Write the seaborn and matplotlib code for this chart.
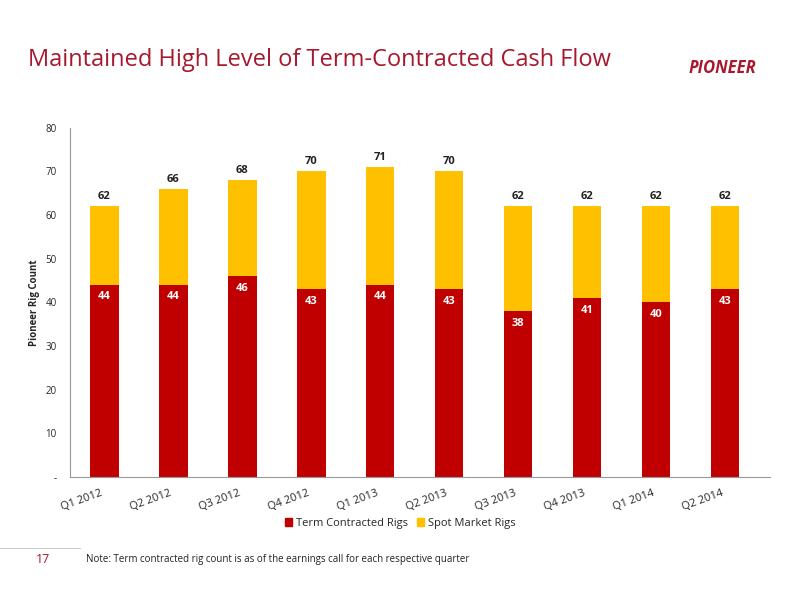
import pandas as pd
import seaborn as sns
import matplotlib.pyplot as plt
from matplotlib.patches import Patch

quarters = ["Q1 2012", "Q2 2012", "Q3 2012", "Q4 2012", "Q1 2013",
            "Q2 2013", "Q3 2013", "Q4 2013", "Q1 2014", "Q2 2014"]
term_rigs = [44, 44, 46, 43, 44, 43, 38, 41, 40, 43]
total_rigs = [62, 66, 68, 70, 71, 70, 62, 62, 62, 62]

red = "#C00000"
yellow = "#FFC000"

sns.set_theme(style="white")
plt.rcParams['font.family'] = ['Open Sans', 'DejaVu Sans']

df = pd.DataFrame({"quarter": quarters, "term": term_rigs, "total": total_rigs})

fig = plt.figure(figsize=(8, 6), dpi=100)
ax = fig.add_axes([0.0875, 0.205, 0.875, 0.582])

sns.barplot(data=df, x="quarter", y="total", color=yellow, width=0.41,
            saturation=1, linewidth=0, ax=ax)
sns.barplot(data=df, x="quarter", y="term", color=red, width=0.41,
            saturation=1, linewidth=0, ax=ax)

for i, (t, tot) in enumerate(zip(term_rigs, total_rigs)):
    ax.text(i, tot + 1, str(tot), ha="center", va="bottom", fontsize=8,
            fontweight="bold", color="#222222")
    ax.text(i, t - 1.5, str(t), ha="center", va="top", fontsize=8,
            fontweight="bold", color="white")

ax.set_ylim(0, 80)
ax.set_xlim(-0.5, 9.65)
ax.set_yticks(range(0, 81, 10))
ax.set_yticklabels(["-"] + [str(v) for v in range(10, 81, 10)], fontsize=7)
ax.set_xticks(range(len(quarters)))
ax.set_xticklabels(quarters, rotation=20, ha="right", fontsize=8)
ax.tick_params(axis="x", pad=2)
ax.set_xlabel("")
ax.set_ylabel("Pioneer Rig Count", fontsize=7, fontweight="bold")
for s in ["top", "right"]:
    ax.spines[s].set_visible(False)
for s in ["left", "bottom"]:
    ax.spines[s].set_color("#999999")
    ax.spines[s].set_linewidth(0.8)

handles = [Patch(color=red, label="Term Contracted Rigs"),
           Patch(color=yellow, label="Spot Market Rigs")]
fig.legend(handles=handles, loc="center", bbox_to_anchor=(0.5, 0.128), ncol=2,
           frameon=False, fontsize=8, handlelength=0.7, handleheight=0.7,
           columnspacing=0.8, handletextpad=0.3)

fig.text(0.035, 0.9, "Maintained High Level of Term-Contracted Cash Flow",
         fontsize=17, color="#A6192E", va="center")
fig.text(0.945, 0.887, "PIONEER", fontsize=12, fontweight="bold",
         fontstyle="italic", color="#A6192E", ha="right", va="center")

fig.text(0.045, 0.068, "17", fontsize=9, color="#A6192E", va="center")
fig.add_artist(plt.Line2D([0.0, 0.1], [0.087, 0.087], color="#cccccc", lw=0.8))
fig.text(0.108, 0.068, "Note: Term contracted rig count is as of the earnings call for each respective quarter",
         fontsize=7, color="#222222", va="center")

fig.savefig("out.png", dpi=100)
